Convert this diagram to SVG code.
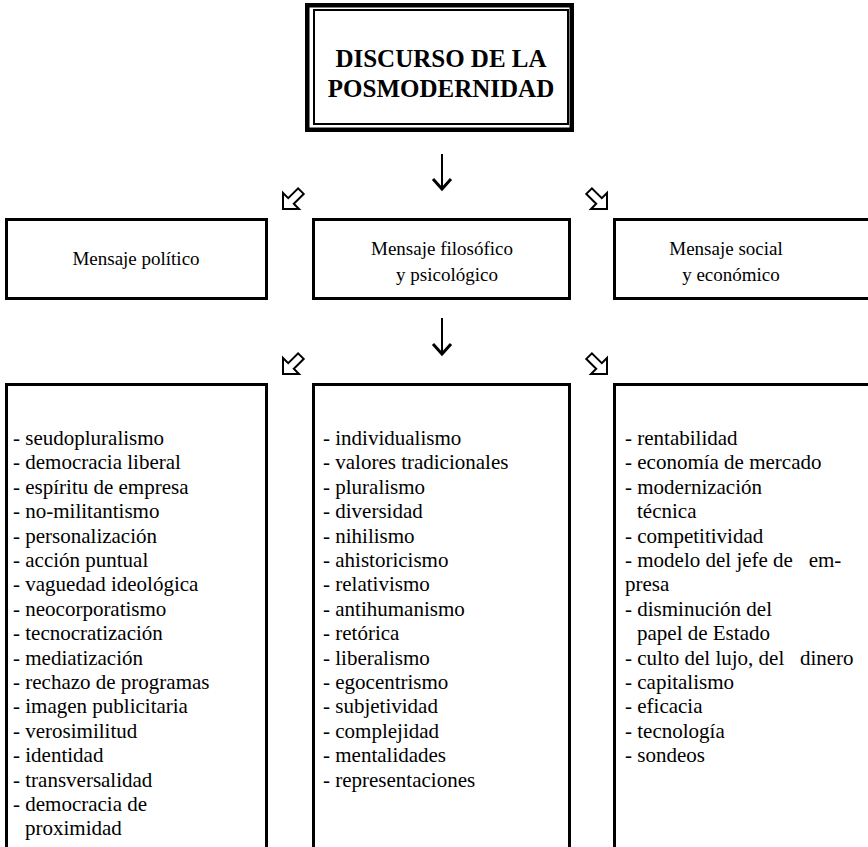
<svg xmlns="http://www.w3.org/2000/svg" width="868" height="847" viewBox="0 0 868 847">
<style>
text{font-family:"Liberation Serif","Times New Roman",serif;fill:#000;white-space:pre}
.t{font-size:25px;font-weight:bold;text-anchor:middle}
.h{font-size:19px;text-anchor:middle}
.b{font-size:21px}
.box{fill:#fff;stroke:#000;stroke-width:3}
.ha{fill:#fff;stroke:#000;stroke-width:2;stroke-linejoin:miter}
.dn{fill:none;stroke:#000;stroke-width:2}
.dh{fill:none;stroke:#000;stroke-width:3;stroke-linejoin:miter}
</style>
<rect width="868" height="847" fill="#fff"/>
<g id="title">
<rect x="307.25" y="5.25" width="264.5" height="124.5" fill="#fff" stroke="#000" stroke-width="4.5"/>
<rect x="314" y="10" width="254" height="114" fill="none" stroke="#000" stroke-width="2"/>
<text class="t" x="441" y="67">DISCURSO DE LA</text>
<text class="t" x="441" y="97">POSMODERNIDAD</text>
</g>
<g id="connectors">
<path class="dn" d="M442 154V188"/>
<path class="dh" d="M433 179L442 189L451 179"/>
<polygon class="ha" points="283,209 283,193 288.2,198.2 298.1,188.3 303.7,193.9 293.8,203.8 299,209"/>
<polygon class="ha" points="607,209 607,193 601.8,198.2 591.9,188.3 586.3,193.9 596.2,203.8 591,209"/>
<path class="dn" d="M442 318V353"/>
<path class="dh" d="M433 344L442 354L451 344"/>
<polygon class="ha" points="283,374 283,358 288.2,363.2 298.1,353.3 303.7,358.9 293.8,368.8 299,374"/>
<polygon class="ha" points="607,374 607,358 601.8,363.2 591.9,353.3 586.3,358.9 596.2,368.8 591,374"/>
</g>
<g id="mensaje-politico">
<rect class="box" x="6.5" y="219.5" width="260" height="79"/>
<text class="h" x="136" y="265">Mensaje político</text>
</g>
<g id="mensaje-filosofico">
<rect class="box" x="313.5" y="219.5" width="256" height="79"/>
<text class="h" x="442" y="255">Mensaje filosófico</text>
<text class="h" x="447" y="281">y psicológico</text>
</g>
<g id="mensaje-social">
<rect class="box" x="614.5" y="219.5" width="265" height="79"/>
<text class="h" x="726" y="255">Mensaje social</text>
<text class="h" x="731" y="281">y económico</text>
</g>
<g id="lista-politico">
<rect class="box" x="6.5" y="384.5" width="260" height="480"/>
<text class="b" x="13" y="445">- seudopluralismo</text>
<text class="b" x="13" y="469.4">- democracia liberal</text>
<text class="b" x="13" y="493.8">- espíritu de empresa</text>
<text class="b" x="13" y="518.2">- no-militantismo</text>
<text class="b" x="13" y="542.6">- personalización</text>
<text class="b" x="13" y="567">- acción puntual</text>
<text class="b" x="13" y="591.4">- vaguedad ideológica</text>
<text class="b" x="13" y="615.8">- neocorporatismo</text>
<text class="b" x="13" y="640.2">- tecnocratización</text>
<text class="b" x="13" y="664.6">- mediatización</text>
<text class="b" x="13" y="689">- rechazo de programas</text>
<text class="b" x="13" y="713.4">- imagen publicitaria</text>
<text class="b" x="13" y="737.8">- verosimilitud</text>
<text class="b" x="13" y="762.2">- identidad</text>
<text class="b" x="13" y="786.6">- transversalidad</text>
<text class="b" x="13" y="811">- democracia de</text>
<text class="b" x="25" y="835.4">proximidad</text>
</g>
<g id="lista-filosofico">
<rect class="box" x="313.5" y="384.5" width="256" height="480"/>
<text class="b" x="323" y="445">- individualismo</text>
<text class="b" x="323" y="469.4">- valores tradicionales</text>
<text class="b" x="323" y="493.8">- pluralismo</text>
<text class="b" x="323" y="518.2">- diversidad</text>
<text class="b" x="323" y="542.6">- nihilismo</text>
<text class="b" x="323" y="567">- ahistoricismo</text>
<text class="b" x="323" y="591.4">- relativismo</text>
<text class="b" x="323" y="615.8">- antihumanismo</text>
<text class="b" x="323" y="640.2">- retórica</text>
<text class="b" x="323" y="664.6">- liberalismo</text>
<text class="b" x="323" y="689">- egocentrismo</text>
<text class="b" x="323" y="713.4">- subjetividad</text>
<text class="b" x="323" y="737.8">- complejidad</text>
<text class="b" x="323" y="762.2">- mentalidades</text>
<text class="b" x="323" y="786.6">- representaciones</text>
</g>
<g id="lista-social">
<rect class="box" x="614.5" y="384.5" width="265" height="480"/>
<text class="b" x="625" y="445">- rentabilidad</text>
<text class="b" x="625" y="469.4">- economía de mercado</text>
<text class="b" x="625" y="493.8">- modernización</text>
<text class="b" x="637" y="518.2">técnica</text>
<text class="b" x="625" y="542.6">- competitividad</text>
<text class="b" x="625" y="567">- modelo del jefe de   em-</text>
<text class="b" x="625" y="591.4">presa</text>
<text class="b" x="625" y="615.8">- disminución del</text>
<text class="b" x="637" y="640.2">papel de Estado</text>
<text class="b" x="625" y="664.6">- culto del lujo, del   dinero</text>
<text class="b" x="625" y="689">- capitalismo</text>
<text class="b" x="625" y="713.4">- eficacia</text>
<text class="b" x="625" y="737.8">- tecnología</text>
<text class="b" x="625" y="762.2">- sondeos</text>
</g>
</svg>
